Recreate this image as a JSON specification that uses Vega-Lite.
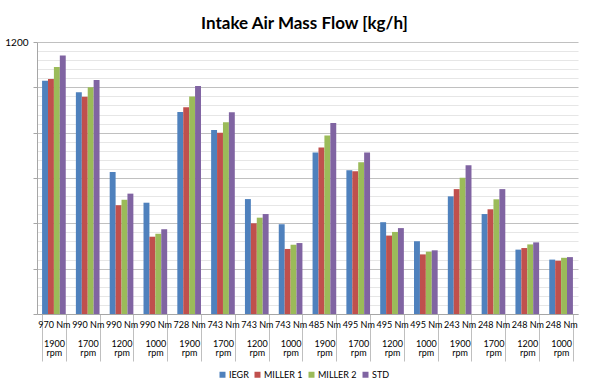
{
  "$schema": "https://vega.github.io/schema/vega-lite/v6.json",
  "width": 541,
  "height": 272,
  "autosize": {"type": "none"},
  "padding": {"left": 37, "top": 42, "right": 11, "bottom": 77},
  "background": "white",
  "title": {"text": "Intake Air Mass Flow [kg/h]", "font": "Lato", "fontSize": 17, "fontWeight": "bold", "color": "#000000", "offset": 4, "anchor": "middle", "dx": -3},
  "data": {"values": [
    {"cat": "970 Nm|1900", "series": "IEGR", "value": 1029},
    {"cat": "970 Nm|1900", "series": "MILLER 1", "value": 1037},
    {"cat": "970 Nm|1900", "series": "MILLER 2", "value": 1090},
    {"cat": "970 Nm|1900", "series": "STD", "value": 1140},
    {"cat": "990 Nm|1700", "series": "IEGR", "value": 978},
    {"cat": "990 Nm|1700", "series": "MILLER 1", "value": 959},
    {"cat": "990 Nm|1700", "series": "MILLER 2", "value": 1000},
    {"cat": "990 Nm|1700", "series": "STD", "value": 1032},
    {"cat": "990 Nm|1200", "series": "IEGR", "value": 626},
    {"cat": "990 Nm|1200", "series": "MILLER 1", "value": 480},
    {"cat": "990 Nm|1200", "series": "MILLER 2", "value": 504},
    {"cat": "990 Nm|1200", "series": "STD", "value": 531},
    {"cat": "990 Nm|1000", "series": "IEGR", "value": 491},
    {"cat": "990 Nm|1000", "series": "MILLER 1", "value": 341},
    {"cat": "990 Nm|1000", "series": "MILLER 2", "value": 354},
    {"cat": "990 Nm|1000", "series": "STD", "value": 374},
    {"cat": "728 Nm|1900", "series": "IEGR", "value": 891},
    {"cat": "728 Nm|1900", "series": "MILLER 1", "value": 912},
    {"cat": "728 Nm|1900", "series": "MILLER 2", "value": 960},
    {"cat": "728 Nm|1900", "series": "STD", "value": 1006},
    {"cat": "743 Nm|1700", "series": "IEGR", "value": 812},
    {"cat": "743 Nm|1700", "series": "MILLER 1", "value": 800},
    {"cat": "743 Nm|1700", "series": "MILLER 2", "value": 846},
    {"cat": "743 Nm|1700", "series": "STD", "value": 890},
    {"cat": "743 Nm|1200", "series": "IEGR", "value": 507},
    {"cat": "743 Nm|1200", "series": "MILLER 1", "value": 400},
    {"cat": "743 Nm|1200", "series": "MILLER 2", "value": 425},
    {"cat": "743 Nm|1200", "series": "STD", "value": 441},
    {"cat": "743 Nm|1000", "series": "IEGR", "value": 396},
    {"cat": "743 Nm|1000", "series": "MILLER 1", "value": 287},
    {"cat": "743 Nm|1000", "series": "MILLER 2", "value": 306},
    {"cat": "743 Nm|1000", "series": "STD", "value": 313},
    {"cat": "485 Nm|1900", "series": "IEGR", "value": 713},
    {"cat": "485 Nm|1900", "series": "MILLER 1", "value": 735},
    {"cat": "485 Nm|1900", "series": "MILLER 2", "value": 787},
    {"cat": "485 Nm|1900", "series": "STD", "value": 843},
    {"cat": "495 Nm|1700", "series": "IEGR", "value": 634},
    {"cat": "495 Nm|1700", "series": "MILLER 1", "value": 630},
    {"cat": "495 Nm|1700", "series": "MILLER 2", "value": 669},
    {"cat": "495 Nm|1700", "series": "STD", "value": 713},
    {"cat": "495 Nm|1200", "series": "IEGR", "value": 405},
    {"cat": "495 Nm|1200", "series": "MILLER 1", "value": 346},
    {"cat": "495 Nm|1200", "series": "MILLER 2", "value": 362},
    {"cat": "495 Nm|1200", "series": "STD", "value": 379},
    {"cat": "495 Nm|1000", "series": "IEGR", "value": 321},
    {"cat": "495 Nm|1000", "series": "MILLER 1", "value": 263},
    {"cat": "495 Nm|1000", "series": "MILLER 2", "value": 275},
    {"cat": "495 Nm|1000", "series": "STD", "value": 281},
    {"cat": "243 Nm|1900", "series": "IEGR", "value": 519},
    {"cat": "243 Nm|1900", "series": "MILLER 1", "value": 551},
    {"cat": "243 Nm|1900", "series": "MILLER 2", "value": 601},
    {"cat": "243 Nm|1900", "series": "STD", "value": 656},
    {"cat": "248 Nm|1700", "series": "IEGR", "value": 441},
    {"cat": "248 Nm|1700", "series": "MILLER 1", "value": 462},
    {"cat": "248 Nm|1700", "series": "MILLER 2", "value": 506},
    {"cat": "248 Nm|1700", "series": "STD", "value": 551},
    {"cat": "248 Nm|1200", "series": "IEGR", "value": 284},
    {"cat": "248 Nm|1200", "series": "MILLER 1", "value": 291},
    {"cat": "248 Nm|1200", "series": "MILLER 2", "value": 307},
    {"cat": "248 Nm|1200", "series": "STD", "value": 316},
    {"cat": "248 Nm|1000", "series": "IEGR", "value": 240},
    {"cat": "248 Nm|1000", "series": "MILLER 1", "value": 235},
    {"cat": "248 Nm|1000", "series": "MILLER 2", "value": 248},
    {"cat": "248 Nm|1000", "series": "STD", "value": 251}
  ]},
  "mark": {"type": "bar"},
  "encoding": {
    "x": {
      "field": "cat", "type": "nominal", "sort": null, "title": null,
      "scale": {"paddingInner": 0.3, "paddingOuter": 0.15},
      "axis": {
        "labelAngle": 0,
        "labelExpr": "isString(datum.value) ? [split(datum.value,'|')[0], '\u200b', split(datum.value,'|')[1], 'rpm'] : ''",
        "labelFont": "Lato", "labelFontSize": 9, "labelColor": "#000000",
        "labelLineHeight": 9.5,
        "labelBaseline": "top",
        "labelOverlap": false,
        "tickBand": "extent", "tickSize": 47, "tickColor": "#bfbfbf",
        "labelPadding": -41,
        "domainColor": "#a6a6a6",
        "grid": false
      }
    },
    "xOffset": {"field": "series", "type": "nominal", "scale": {"paddingInner": 0, "paddingOuter": 0}},
    "y": {
      "field": "value", "type": "quantitative", "title": null,
      "scale": {"domain": [0, 1200], "nice": false},
      "axis": {
        "values": [0,40,80,120,160,200,240,280,320,360,400,440,480,520,560,600,640,680,720,760,800,840,880,920,960,1000,1040,1080,1120,1160,1200],
        "labelExpr": "datum.value == 1200 ? '1200' : ''",
        "labelFont": "Lato", "labelFontSize": 10, "labelColor": "#000000",
        "labelPadding": 5,
        "tickSize": 4,
        "tickColor": "#a6a6a6",
        "tickOpacity": {"condition": {"test": "datum.value % 200 === 0", "value": 1}, "value": 0},
        "gridColor": {"condition": {"test": "datum.value % 200 === 0", "value": "#c0c0c0"}, "value": "#e6e6e6"},
        "gridWidth": 1.2,
        "domainColor": "#a6a6a6"
      }
    },
    "color": {
      "field": "series", "type": "nominal", "title": null,
      "scale": {"domain": ["IEGR", "MILLER 1", "MILLER 2", "STD"], "range": ["#4f81bd", "#c0504d", "#9bbb59", "#8064a2"]},
      "legend": {
        "orient": "none", "legendX": 181, "legendY": 328, "direction": "horizontal",
        "symbolType": "square", "symbolSize": 36, "symbolStrokeWidth": 0,
        "labelFont": "Lato", "labelFontSize": 9, "labelColor": "#000000",
        "columnPadding": 4, "labelOffset": 2
      }
    }
  },
  "config": {"view": {"stroke": null}}
}
